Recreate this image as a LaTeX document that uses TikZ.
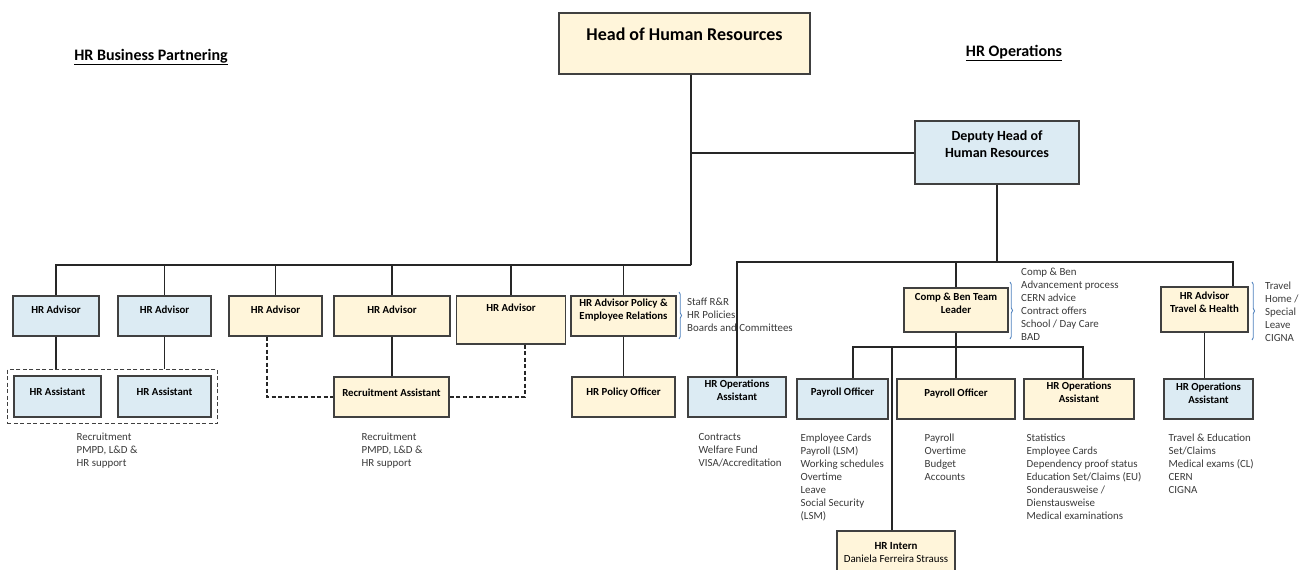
\documentclass[tikz,border=0pt]{standalone}
\usepackage{fontspec}
\setmainfont{Carlito}
\usetikzlibrary{positioning,fit,calc,decorations.pathreplacing}
\definecolor{cream}{HTML}{FFF5DA}
\definecolor{paleblue}{HTML}{DCEBF3}
\definecolor{edge}{HTML}{404040}
\definecolor{bracketblue}{HTML}{4F81BD}
\definecolor{listgray}{HTML}{3A3A3A}

\begin{document}
\begin{tikzpicture}[
        x=1pt, y=-1pt,
        box/.style={draw=edge, line width=1.1pt, align=center, inner xsep=2pt, inner ysep=0pt,
            font=\fontsize{10.8}{13}\selectfont\bfseries},
        ybox/.style={box, fill=cream},
        bbox/.style={box, fill=paleblue},
        txtup/.style={text depth=#1pt},
        dims/.style 2 args={minimum width=#1pt, minimum height=#2pt},
        link/.style={draw=black!85, line width=1.4pt},
        dlink/.style={draw=black!85, line width=1.1pt, dash pattern=on 4pt off 2.5pt},
        lst/.style={font=\fontsize{10.9}{13}\selectfont, text=listgray, align=left, inner sep=0pt, anchor=north west},
        sect/.style={font=\fontsize{16}{18}\selectfont\bfseries},
        brk/.style={draw=bracketblue, line width=0.9pt, decorate, decoration={brace, amplitude=2.5pt}}
    ]
        \useasboundingbox (0,0) rectangle (1299,570);

        % section titles
        \node[sect] (bp) at (151,57) {\underline{HR Business Partnering}};
        \node[sect] (ops) at (1014,53) {\underline{HR Operations}};

        % top
        \node[ybox, dims={251}{61}, txtup=19, font=\fontsize{18}{20}\selectfont\bfseries] (head) at (684.5,43.5) {Head of Human Resources};
        \node[bbox, dims={164}{63}, txtup=16, font=\fontsize{14}{17}\selectfont\bfseries] (deputy) at (997,152.5) {Deputy Head of\\Human Resources};

        % business partnering row
        \node[bbox, dims={86}{40}, txtup=12] (adv1) at (56,316) {HR Advisor};
        \node[bbox, dims={93}{40}, txtup=12] (adv2) at (164.5,316) {HR Advisor};
        \node[ybox, dims={93}{40}, txtup=12] (adv3) at (275.5,316) {HR Advisor};
        \node[ybox, dims={116}{40}, txtup=12] (adv4) at (392,316) {HR Advisor};
        \node[ybox, dims={109}{48}, txtup=24] (adv5) at (511,320) {HR Advisor};
        \node[ybox, dims={105}{40}, txtup=14] (advpol) at (623.5,316) {HR Advisor Policy \&\\Employee Relations};

        \node[bbox, dims={87}{41}, txtup=10] (ast1) at (57.5,396.5) {HR Assistant};
        \node[bbox, dims={93}{41}, txtup=10] (ast2) at (164.5,396.5) {HR Assistant};
        \node[draw=edge, line width=1.1pt, dash pattern=on 4pt off 2.5pt, inner sep=6pt, fit=(ast1)(ast2)] (grp) {};
        \node[ybox, dims={115}{40}, txtup=8] (recast) at (391.5,397) {Recruitment Assistant};
        \node[ybox, dims={103}{40}, txtup=10] (polofc) at (623.5,397) {HR Policy Officer};

        % operations
        \node[bbox, dims={98}{40}, txtup=13] (opsast1) at (737,397) {HR Operations\\Assistant};
        \node[ybox, dims={104}{44}, txtup=13] (cben) at (956,310) {Comp \& Ben Team\\Leader};
        \node[ybox, dims={87}{45}, txtup=15] (travel) at (1204.5,309.5) {HR Advisor\\Travel \& Health};
        \node[bbox, dims={91}{40}, txtup=14] (pay1) at (842.5,399) {Payroll Officer};
        \node[ybox, dims={118}{40}, txtup=12] (pay2) at (956,399) {Payroll Officer};
        \node[ybox, dims={110}{40}, txtup=14] (opsast2) at (1079,399) {HR Operations\\Assistant};
        \node[bbox, dims={89}{40}, txtup=12] (opsast3) at (1208.5,399) {HR Operations\\Assistant};
        \node[ybox, dims={118}{47}, txtup=4, font=\fontsize{10.9}{13}\selectfont] (intern) at (896,554.5) {\textbf{HR Intern}\\Daniela Ferreira Strauss};

        % duty lists
        \node[lst] (pollist) at (687,298) {Staff R\&R\\HR Policies\\Boards and Committees};
        \node[lst] (cbenlist) at (1021,268) {Comp \& Ben\\Advancement process\\CERN advice\\Contract offers\\School / Day Care\\BAD};
        \node[lst] (travlist) at (1265,282) {Travel\\Home /\\Special\\Leave\\CIGNA};
        \node[lst, below right=15pt and 63pt of ast1.south west] (reclist1) {Recruitment\\PMPD, L\&D \&\\HR support};
        \node[lst, below right=15pt and 28pt of recast.south west] (reclist2) {Recruitment\\PMPD, L\&D \&\\HR support};
        \node[lst, below right=16pt and 11pt of opsast1.south west] (opslist1) {Contracts\\Welfare Fund\\VISA/Accreditation};
        \node[lst, below right=14pt and 4pt of pay1.south west] (paylist1) {Employee Cards\\Payroll (LSM)\\Working schedules\\Overtime\\Leave\\Social Security\\(LSM)};
        \node[lst, below right=14pt and 28pt of pay2.south west] (paylist2) {Payroll\\Overtime\\Budget\\Accounts};
        \node[lst, below right=14pt and 3pt of opsast2.south west] (opslist2) {Statistics\\Employee Cards\\Dependency proof status\\Education Set/Claims (EU)\\Sonderausweise /\\Dienstausweise\\Medical examinations};
        \node[lst, below right=14pt and 5pt of opsast3.south west] (opslist3) {Travel \& Education\\Set/Claims\\Medical exams (CL)\\CERN\\CIGNA};

        \draw[brk] (679,292) -- (679,339);
        \draw[brk] (1010,282) -- (1010,339);
        \draw[brk] (1252,282) -- (1252,340);

        % lines
        \coordinate (hub) at (691,153);
        \coordinate (lbar) at (691,265);
        \draw[link] (head.south -| hub) -- (lbar);
        \draw[link] (hub) -- (hub -| deputy.west);
        \foreach \b in {adv1,adv2,adv3,adv4,adv5,advpol}
            \draw[link] (lbar) -| (\b.north);
        \draw[link] (adv1.south) -- (adv1.south |- grp.north);
        \draw[link] (adv2.south) -- (adv2.south |- grp.north);
        \draw[link] (adv4.south) -- (adv4.south |- recast.north);
        \draw[dlink] ([xshift=-8.5pt]adv3.south) |- (recast.west);
        \draw[dlink] ([xshift=14pt]adv5.south) |- (recast.east);
        \draw[link] (advpol.south) -- (advpol.south |- polofc.north);

        \coordinate (rbar) at (997,262);
        \draw[link] (deputy.south) -- (rbar);
        \draw[link] (opsast1.north) |- (rbar) -| ([xshift=28.5pt]travel.north);
        \draw[link] (rbar -| cben.north) -- (cben.north);
        \draw[link] (travel.south) -- (travel.south |- opsast3.north);

        \coordinate (cbar) at (956,347);
        \draw[link] (cben.south) -- (cbar);
        \draw[link] ([xshift=10.5pt]pay1.north) |- (cbar) -| ([xshift=4pt]opsast2.north);
        \draw[link] (cbar) -- (pay2.north);
        \draw[link] ([xshift=-4pt]intern.north) -- ([xshift=-4pt]intern.north |- cbar);
    \end{tikzpicture}
\end{document}
